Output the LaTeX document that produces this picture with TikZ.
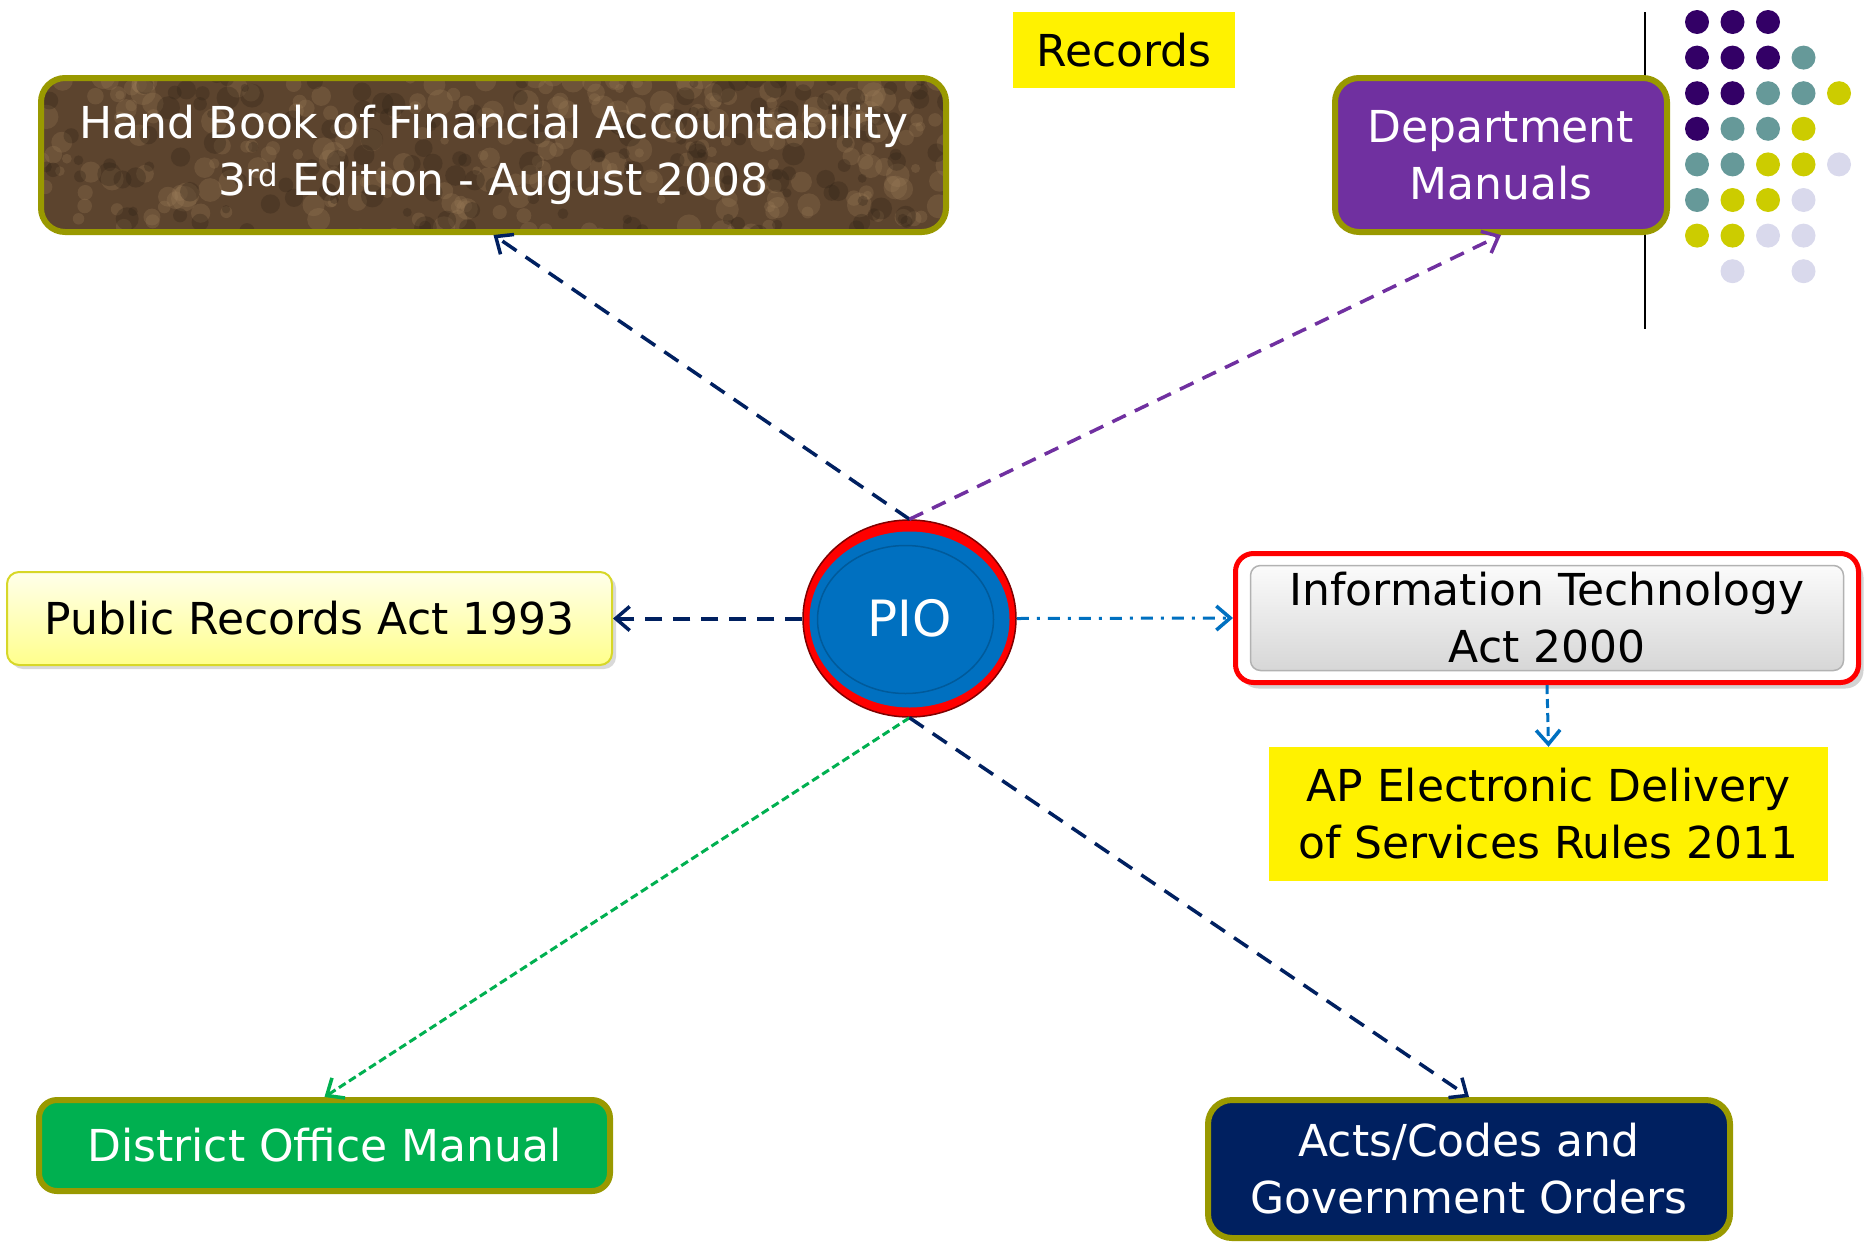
\documentclass[tikz,border=0pt]{standalone}
\usepackage{fontspec}
\setmainfont{DejaVu Sans}
\usetikzlibrary{arrows.meta,shapes.geometric,shadows}
\definecolor{olivebd}{RGB}{153,153,0}
\definecolor{hbbrown}{RGB}{92,68,46}
\definecolor{hbtan}{RGB}{160,128,92}
\definecolor{hbdark}{RGB}{48,34,22}
\definecolor{deptpurple}{RGB}{112,48,160}
\definecolor{domgreen}{RGB}{0,176,80}
\definecolor{actsnavy}{RGB}{0,32,96}
\definecolor{linenavy}{RGB}{0,32,96}
\definecolor{lineblue}{RGB}{0,112,192}
\definecolor{palebd}{RGB}{215,215,40}
\definecolor{dotpurple}{RGB}{51,0,102}
\definecolor{dotteal}{RGB}{102,153,153}
\definecolor{dotyellow}{RGB}{204,204,0}
\definecolor{dotlilac}{RGB}{217,217,236}
\begin{document}
\begin{tikzpicture}[x=1pt,y=-1pt,
  txt/.style={font=\fontsize{44}{57}\selectfont,align=center,inner sep=0pt},
  olivebox/.style={txt,draw=olivebd,line width=6pt,rounded corners=24pt,text=white},
  yellowbox/.style={txt,fill=yellow},
  link/.style={line width=3.5pt,-{Straight Barb[length=14pt,width=24pt,line width=3.5pt]}}]
  \useasboundingbox (0,0) rectangle (1865,1253);

  \draw [line width=2pt] (1645,12) -- (1645,329);
  \foreach \c/\r/\col in {0/0/dotpurple,1/0/dotpurple,2/0/dotpurple,
      0/1/dotpurple,1/1/dotpurple,2/1/dotpurple,3/1/dotteal,
      0/2/dotpurple,1/2/dotpurple,2/2/dotteal,3/2/dotteal,4/2/dotyellow,
      0/3/dotpurple,1/3/dotteal,2/3/dotteal,3/3/dotyellow,
      0/4/dotteal,1/4/dotteal,2/4/dotyellow,3/4/dotyellow,4/4/dotlilac,
      0/5/dotteal,1/5/dotyellow,2/5/dotyellow,3/5/dotlilac,
      0/6/dotyellow,1/6/dotyellow,2/6/dotlilac,3/6/dotlilac,
      1/7/dotlilac,3/7/dotlilac}
    \fill [\col] ({1697+35.5*\c},{22+35.6*\r}) circle [radius=12pt];

  \pgfmathsetseed{7}
  \node [olivebox,fill=hbbrown,minimum width=905pt,minimum height=154pt,
    path picture={
      \foreach \i in {1,...,260}
        \fill [hbtan,opacity=0.25] ([shift={(rand*455pt,rand*80pt)}]path picture bounding box.center)
          circle [radius=4pt+rnd*9pt];
      \foreach \i in {1,...,160}
        \fill [hbdark,opacity=0.3] ([shift={(rand*455pt,rand*80pt)}]path picture bounding box.center)
          circle [radius=4pt+rnd*8pt];}] (hb) at (493.5,155)
    {Hand Book of Financial Accountability\\3\textsuperscript{rd} Edition - August 2008};
  \node [yellowbox,minimum width=222pt,minimum height=76pt] (rec) at (1124,50) {Records};
  \node [olivebox,fill=deptpurple,minimum width=332pt,minimum height=154pt] (dept) at (1501,155)
    {Department\\Manuals};

  \node [ellipse,inner sep=0pt,minimum width=213pt,minimum height=197pt,fill=red,
    draw=red!50!black,line width=1.5pt,text=white,font=\fontsize{50}{60}\selectfont,
    path picture={
      \fill [lineblue] ([yshift=-1pt]path picture bounding box.center)
        ellipse [x radius=100pt,y radius=88pt];
      \draw [lineblue!80!black,line width=1.5pt] ([xshift=-4pt,yshift=-1pt]path picture bounding box.center)
        ellipse [x radius=88pt,y radius=74pt];}] (pio) at (909.5,618.5) {PIO};

  \node [txt,top color=yellow!8,bottom color=yellow!45,draw=palebd,line width=2pt,rounded corners=12pt,
    minimum width=605pt,minimum height=93pt,
    drop shadow={opacity=0.3,shadow xshift=4pt,shadow yshift=-4pt}] (pra) at (309.5,618.5)
    {Public Records Act 1993};
  \node [txt,fill=white,draw=red,line width=5pt,rounded corners=18pt,
    minimum width=623pt,minimum height=129pt,
    drop shadow={opacity=0.35,shadow xshift=5pt,shadow yshift=-6pt},
    path picture={
      \shade [top color=white,bottom color=gray!35,draw=gray!60,line width=1.5pt,rounded corners=10pt]
        ([xshift=15pt,yshift=-12pt]path picture bounding box.north west) rectangle
        ([xshift=-15pt,yshift=12pt]path picture bounding box.south east);}] (it) at (1547,618)
    {Information Technology\\Act 2000};
  \node [yellowbox,minimum width=559pt,minimum height=134pt] (ap) at (1548.5,814)
    {AP Electronic Delivery\\of Services Rules 2011};
  \node [olivebox,fill=domgreen,rounded corners=18pt,minimum width=571pt,minimum height=91pt] (dom)
    at (324.5,1145.5) {District Office Manual};
  \node [olivebox,fill=actsnavy,minimum width=522pt,minimum height=138pt] (acts) at (1469,1169)
    {Acts/Codes and\\Government Orders};

  \draw [link,linenavy,dash pattern=on 17pt off 11pt] (pio.north) -- (hb.south);
  \draw [link,deptpurple,dash pattern=on 15pt off 10pt] (pio.north) -- (dept.south);
  \draw [link,linenavy,line width=4pt,dash pattern=on 17pt off 11pt] (pio.west) -- (pra.east);
  \draw [link,lineblue,line width=3pt,dash pattern=on 12pt off 8pt on 3pt off 8pt] (pio.east) -- (it.west);
  \draw [link,lineblue,line width=3pt,dash pattern=on 9pt off 5pt] (it.south) -- (ap.north);
  \draw [link,domgreen,line width=3pt,dash pattern=on 8pt off 4pt] (pio.south) -- (dom.north);
  \draw [link,linenavy,dash pattern=on 17pt off 11pt] (pio.south) -- (acts.north);
\end{tikzpicture}
\end{document}
